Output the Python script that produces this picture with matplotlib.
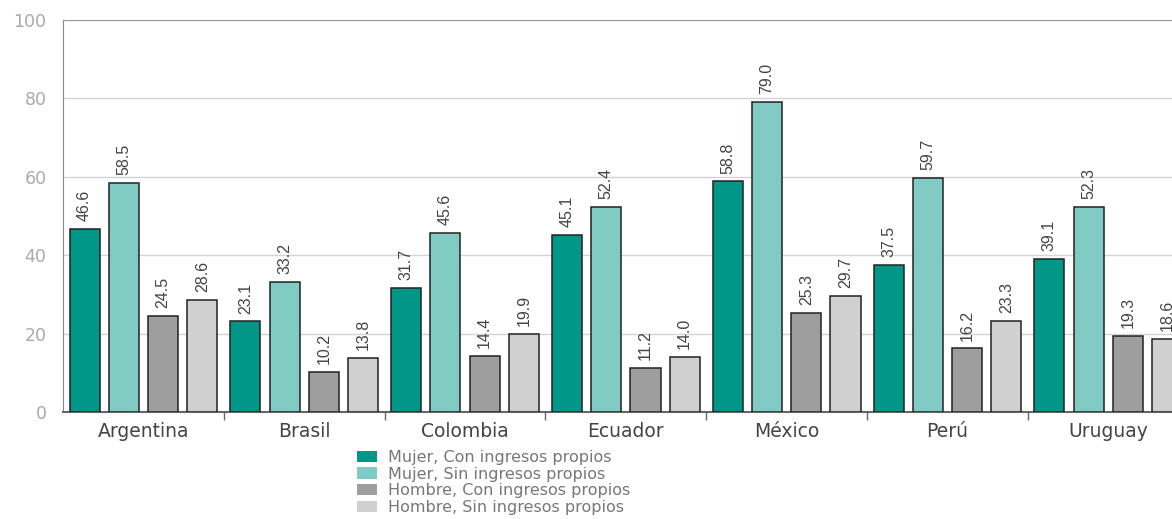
import matplotlib.pyplot as plt
import numpy as np

countries = ['Argentina', 'Brasil', 'Colombia', 'Ecuador', 'México', 'Perú', 'Uruguay']
series_names = ['Mujer, Con ingresos propios', 'Mujer, Sin ingresos propios',
                'Hombre, Con ingresos propios', 'Hombre, Sin ingresos propios']
mujer_con = [46.6, 23.1, 31.7, 45.1, 58.8, 37.5, 39.1]
mujer_sin = [58.5, 33.2, 45.6, 52.4, 79.0, 59.7, 52.3]
hombre_con = [24.5, 10.2, 14.4, 11.2, 25.3, 16.2, 19.3]
hombre_sin = [28.6, 13.8, 19.9, 14.0, 29.7, 23.3, 18.6]
colors = ['#009688', '#80cbc4', '#9e9e9e', '#d0d0d0']

fig = plt.figure(figsize=(11.72, 5.19), dpi=100)
ax = fig.add_axes([0.0538, 0.2062, 0.9604, 0.7553])

x = np.arange(len(countries)) + 0.5
width = 0.187
pitch = 0.244
all_series = [mujer_con, mujer_sin, hombre_con, hombre_sin]
for i, vals in enumerate(all_series):
    pos = x + (i - 1.5) * pitch
    ax.bar(pos, vals, width, color=colors[i], edgecolor='#222222',
           linewidth=1.1, label=series_names[i], zorder=3)
    for px, v in zip(pos, vals):
        ax.text(px, v + 2.0, f'{v:.1f}', rotation=90, ha='center', va='bottom',
                fontsize=11.5, color='#444444', family='Liberation Sans')

ax.set_xlim(0, len(countries))
ax.set_ylim(0, 100)
ax.set_yticks([0, 20, 40, 60, 80, 100])
ax.yaxis.grid(True, color='#d4d4d4', linewidth=1, zorder=0)
ax.tick_params(axis='y', length=0, pad=12, labelsize=12.5, labelcolor='#aaaaaa')
ax.set_xticks(x)
ax.set_xticklabels(countries)
ax.set_xticks(np.arange(1, len(countries)), minor=True)
ax.tick_params(axis='x', which='major', length=0, pad=7, labelsize=13.5, labelcolor='#444444')
ax.tick_params(axis='x', which='minor', length=6, color='#666666', width=1)

ax.spines['left'].set_color('#888888')
ax.spines['top'].set_color('#999999')
ax.spines['right'].set_visible(False)
ax.spines['bottom'].set_color('#666666')
ax.spines['bottom'].set_linewidth(1.5)

leg = fig.legend(loc='upper left', bbox_to_anchor=(0.305, 0.133), frameon=False,
                 fontsize=11.5, handlelength=1.2, handleheight=0.7,
                 handletextpad=0.7, labelspacing=0.1, borderaxespad=0,
                 borderpad=0)
for t in leg.get_texts():
    t.set_color('#777777')
for h in leg.legend_handles:
    h.set_edgecolor('none')

fig.savefig('out.png', dpi=100)
